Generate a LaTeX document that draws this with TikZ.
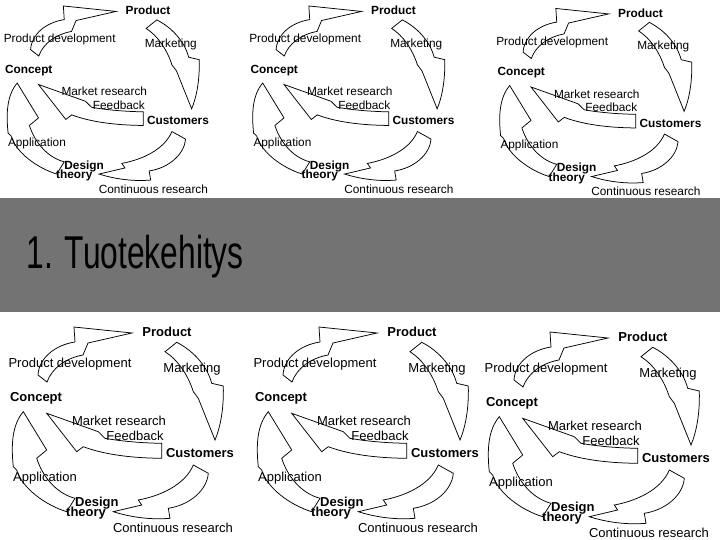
\documentclass[tikz,border=0pt]{standalone}
\usepackage{fontspec}
\setmainfont{Liberation Sans}
\definecolor{bandgray}{RGB}{115,115,115}
\tikzset{
  arr/.style={draw=black, fill=white, line width=0.75pt, line join=miter},
  lbl/.style={font=\fontsize{13}{15}\selectfont, inner sep=0pt},
  blbl/.style={font=\fontsize{13}{15}\selectfont\bfseries, inner sep=0pt},
}
\newcommand{\cyclediag}[1]{%
  % arrow A: Concept -> Product
  \draw[arr] (38,65) .. controls (39,48) and (55,35) .. (75,32) -- (74,17) -- (132,23) -- (88,33) -- (83,45) .. controls (66,48) and (52,58) .. (47,72) -- cycle;
  % arrow B: Product -> Customers
  \draw[arr] (176.7,32.3) .. controls (192,40) and (207,55) .. (211.7,73.3) -- (223.3,76) .. controls (224,100) and (220,118) .. (215,130) -- (198.3,88.3) -- (193.3,81.7) .. controls (188,65) and (178,50) .. (165,41.7) -- cycle;
  % arrow C: Customers -> Design theory
  \draw[arr] (208.3,163.3) .. controls (207,180) and (190,195) .. (168.3,198.3) -- (170,208.3) .. controls (150,210) and (130,207) .. (113.3,201.7) -- (141.7,195) -- (138.3,190) .. controls (160,186) and (185,175) .. (193.3,155) -- cycle;
  % arrow D: Design theory -> Concept
  \draw[arr] (66.7,201.7) .. controls (45,195) and (22,178) .. (16.7,160) -- (13.3,156.7) .. controls (11,135) and (12,115) .. (23.3,101.7) -- (46.7,140) -- (36.7,148.3) .. controls (42,165) and (55,183) .. (75,188.3) -- cycle;
  % arrow E: Customers -> Concept
  \draw[arr] (161.7,133.3) .. controls (140,133) and (120,131) .. (105,128.3) -- (98.3,121.7) -- (46.7,103.3) -- (76.7,141.7) -- (83.3,136.7) .. controls (100,143) and (125,148) .. (161.7,148.3) -- cycle;
  % labels
  \node[blbl] (#1prod) at (167,22) {Product};
  \node[lbl]  (#1pdev) at (70,54) {Product development};
  \node[lbl]  (#1mark) at (192,59) {Marketing};
  \node[blbl] (#1conc) at (36,88) {Concept};
  \node[lbl]  (#1mres) at (119,111) {Market research};
  \node[lbl]  (#1feed) at (135,126) {Feedback};
  \node[blbl] (#1cust) at (200,143) {Customers};
  \node[lbl]  (#1appl) at (45,168) {Application};
  \node[blbl, align=left, anchor=north west] (#1desi) at (66,187) {\hspace*{9pt}Design\\[-5pt]theory};
  \node[lbl]  (#1cres) at (173,218) {Continuous research};
}
\begin{document}
\begin{tikzpicture}[x=1pt,y=-1pt]
  \useasboundingbox (0,0) rectangle (720,540);
  \fill[white] (0,0) rectangle (720,540);
  % top row
  \begin{scope}[shift={(-4,-9.5)},scale=0.91,transform shape]
    \cyclediag{tl}
  \end{scope}
  \begin{scope}[shift={(241.5,-9.5)},scale=0.91,transform shape]
    \cyclediag{tm}
  \end{scope}
  \begin{scope}[shift={(488.5,-7)},scale=0.91,transform shape]
    \cyclediag{tr}
  \end{scope}
  % band
  \fill[bandgray] (0,198) rectangle (720,312);
  \node[anchor=base west, font=\fontsize{46}{50}\selectfont, xscale=0.69, inner sep=0pt] (title) at (26.5,268.3) {1. Tuotekehitys};
  % bottom row
  \begin{scope}[shift={(0,310)}]
    \cyclediag{bl}
  \end{scope}
  \begin{scope}[shift={(245,310)}]
    \cyclediag{bm}
  \end{scope}
  \begin{scope}[shift={(476,315)}]
    \cyclediag{br}
  \end{scope}
\end{tikzpicture}
\end{document}
